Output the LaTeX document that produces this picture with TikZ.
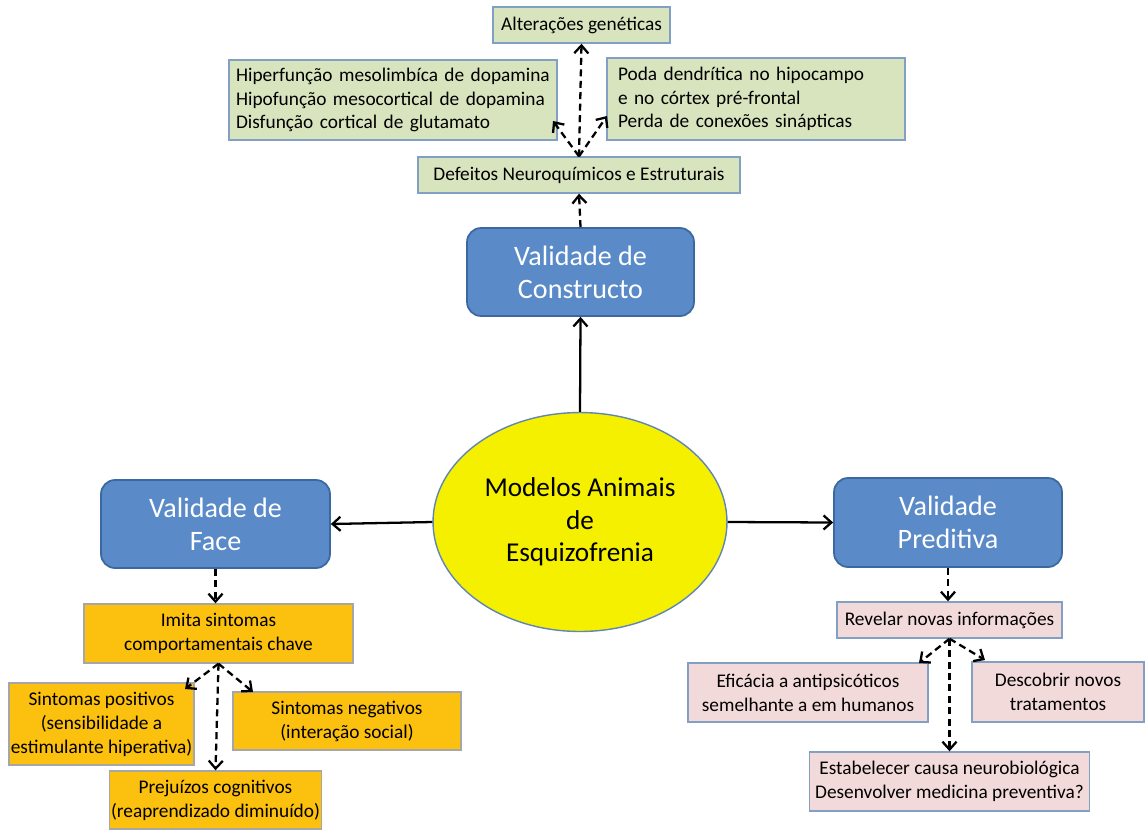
\documentclass[tikz,border=0pt]{standalone}
\usepackage{fontspec}
\setmainfont{Carlito}
\usepackage{tikz}
\usetikzlibrary{shapes.geometric,arrows.meta}
\definecolor{valblue}{RGB}{90,139,200}
\definecolor{valborder}{RGB}{58,104,160}
\definecolor{greenbox}{RGB}{216,228,190}
\definecolor{orangebox}{RGB}{252,192,14}
\definecolor{pinkbox}{RGB}{242,218,218}
\definecolor{boxline}{RGB}{130,160,195}
\definecolor{ellfill}{RGB}{245,240,0}

\begin{document}
\begin{tikzpicture}[x=0.02cm,y=-0.02cm,
	valid/.style={rectangle,rounded corners=8pt,fill=valblue,draw=valborder,line width=1pt,text=white,align=center,font=\fontsize{16}{18.8}\selectfont},
	green/.style={rectangle,fill=greenbox,draw=boxline,line width=0.8pt,font=\fontsize{11}{13.4}\selectfont},
	orange/.style={rectangle,fill=orangebox,draw=gray!70,line width=0.8pt,align=center,font=\fontsize{11}{13.6}\selectfont},
	pink/.style={rectangle,fill=pinkbox,draw=boxline,line width=0.8pt,align=center,font=\fontsize{11}{13.6}\selectfont},
	solidarrow/.style={-{Straight Barb[length=4.5pt,width=8pt]},line width=1.3pt},
	dasharrow/.style={-{Straight Barb[length=4.5pt,width=8pt]},line width=1.3pt,dash pattern=on 4pt off 2.5pt}]
					\useasboundingbox (0,0) rectangle (1145,829);

					% centro
					\node (modelos) at (580,522) [ellipse,fill=ellfill,draw=valborder!80,line width=0.8pt,minimum width=5.88cm,minimum height=4.38cm,align=center,font=\fontsize{15.5}{18.4}\selectfont] {Modelos Animais\\de\\Esquizofrenia};

					\node (construto) at (580.5,272) [valid,minimum width=4.54cm,minimum height=1.76cm] {Validade de\\Constructo};
					\node (face) at (215.5,524) [valid,minimum width=4.58cm,minimum height=1.76cm] {Validade de\\Face};
					\node (preditiva) at (948,522.5) [valid,minimum width=4.56cm,minimum height=1.78cm] {Validade\\Preditiva};

					\draw[solidarrow] (modelos.north) to[] (construto.south);
					\draw[solidarrow] (modelos.west) to[] (face.east);
					\draw[solidarrow] (modelos.east) to[] (preditiva.west);

					% constructo
					\node (defeitos) at (579,175) [green,minimum width=6.44cm,minimum height=0.72cm] {Defeitos Neuroquímicos e Estruturais};
					\node (alteracoes) at (581.5,25) [green,minimum width=3.54cm,minimum height=0.72cm] {Alterações genéticas};
					\node (hiper) at (393,100) [green,minimum height=1.6cm,inner xsep=0.14cm,text width=6.28cm,align=left] {Hiperfunção mesolimbíca de dopamina\\Hipofunção mesocortical de dopamina\\Disfunção cortical de glutamato};
					\node (poda) at (756,99) [green,minimum height=1.64cm,inner xsep=0.22cm,text width=5.52cm,align=left] {Poda dendrítica no hipocampo\\e no córtex pré-frontal\\Perda de conexões sinápticas};
					\coordinate (hiperend) at (553,121);
					\coordinate (podaend) at (607,116);

					\draw[dasharrow] (construto.north) to[] (defeitos.south);
					\draw[dasharrow] (defeitos.north) to[] (alteracoes.south);
					\draw[dasharrow] (defeitos.north) to[] (hiperend);
					\draw[dasharrow] (defeitos.north) to[] (podaend);

					% face
					\node (imita) at (218.5,633.5) [orange,minimum width=5.38cm,minimum height=1.18cm] {Imita sintomas\\comportamentais chave};
					\node (positivos) at (101.5,724) [orange,minimum width=3.66cm,minimum height=1.64cm,inner sep=1pt] {Sintomas positivos\\(sensibilidade a\\estimulante hiperativa)};
					\node (negativos) at (347,721) [orange,minimum width=4.56cm,minimum height=1.16cm] {Sintomas negativos\\(interação social)};
					\node (prejuizos) at (215.5,800) [orange,minimum width=4.18cm,minimum height=1.16cm,inner sep=1pt] {Prejuízos cognitivos\\(reaprendizado diminuído)};
					\coordinate (posend) at (185,689);
					\coordinate (negend) at (253,692);

					\draw[dasharrow] (face.south) to[] (face.south |- imita.north);
					\draw[dasharrow] (imita.south) to[] (posend);
					\draw[dasharrow] (imita.south) to[] (negend);
					\draw[dasharrow] (imita.south) to[] (prejuizos.north);

					% preditiva
					\node (revelar) at (949.5,620) [pink,minimum width=4.5cm,minimum height=0.72cm] {Revelar novas informações};
					\node (eficacia) at (808,692.5) [pink,minimum width=4.8cm,minimum height=1.18cm] {Eficácia a antipsicóticos\\semelhante a em humanos};
					\node (descobrir) at (1058,692) [pink,minimum width=3.44cm,minimum height=1.2cm] {Descobrir novos\\tratamentos};
					\node (estabelecer) at (949.5,781.5) [pink,minimum width=5.58cm,minimum height=1.18cm] {Estabelecer causa neurobiológica\\Desenvolver medicina preventiva?};
					\coordinate (eficend) at (919,663);
					\coordinate (descend) at (985,660);

					\draw[dasharrow] (preditiva.south) to[] (preditiva.south |- revelar.north);
					\draw[dasharrow] (revelar.south) to[] (eficend);
					\draw[dasharrow] (revelar.south) to[] (descend);
					\draw[dasharrow] (revelar.south) to[] (estabelecer.north);

				\end{tikzpicture}
\end{document}
